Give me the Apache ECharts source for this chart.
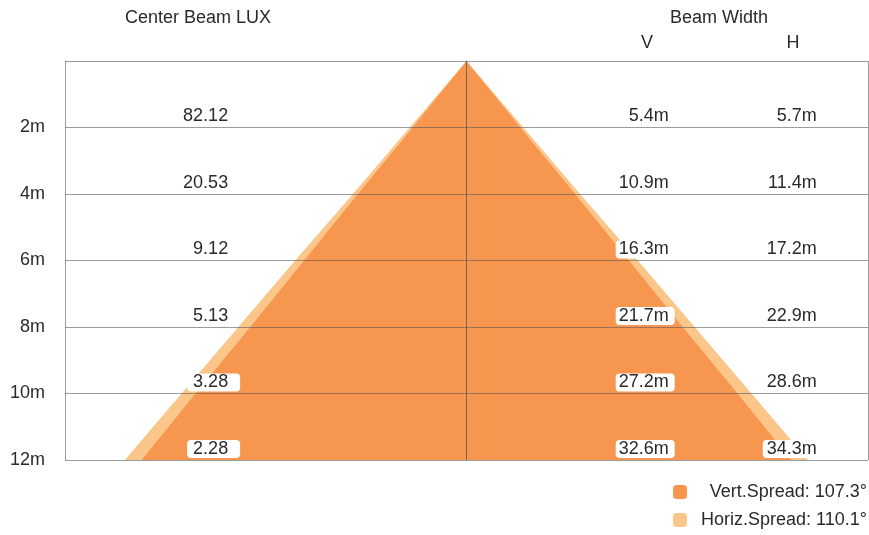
<!DOCTYPE html>
<html>
<head>
<meta charset="utf-8">
<script src="https://cdn.jsdelivr.net/npm/echarts@6/dist/echarts.min.js"></script>
<style>html,body{margin:0;padding:0;background:#fff}#c{width:869px;height:535px}</style>
</head>
<body>
<div id="c"></div>
<script>
// ---- data ----
const distances = [2, 4, 6, 8, 10, 12];
const centerLux = [82.12, 20.53, 9.12, 5.13, 3.28, 2.28];
const vertWidth = [5.4, 10.9, 16.3, 21.7, 27.2, 32.6];
const horizWidth = [5.7, 11.4, 17.2, 22.9, 28.6, 34.3];
const vertSpread = 107.3;
const horizSpread = 110.1;

const vertName = 'Vert.Spread: ' + vertSpread + '°';
const horizName = 'Horiz.Spread: ' + horizSpread + '°';

const FONT = 'Liberation Sans';
const FS = 18;
const TXT = '#2a2a2a';

function conePoints(widths) {
  const pts = [[0, 0]];
  widths.forEach((w, i) => pts.push([w / 2, distances[i]]));
  for (let i = widths.length - 1; i >= 0; i--) pts.push([-widths[i] / 2, distances[i]]);
  return pts;
}

function coneSeries(name, widths, color) {
  return {
    name: name,
    type: 'custom',
    z: 1,
    itemStyle: { color: color },
    data: conePoints(widths),
    renderItem: function (params, api) {
      if (params.dataIndex !== 0) return null;
      const pts = conePoints(widths).map(p => api.coord(p));
      return { type: 'polygon', shape: { points: pts }, style: { fill: color } };
    }
  };
}

function labelSeries(colX, values, suffix, name, pad) {
  return {
    name: name,
    type: 'scatter',
    z: 10,
    symbolSize: 0,
    silent: true,
    itemStyle: { opacity: 1 },
    data: values.map((v, i) => [colX, distances[i], v]),
    label: {
      show: true,
      position: 'left',
      distance: 0,
      offset: [0, -11],
      formatter: p => p.value[2] + suffix,
      fontFamily: FONT,
      fontSize: FS,
      color: TXT,
      backgroundColor: '#fff',
      borderRadius: 4,
      padding: pad
    }
  };
}

const chart = echarts.init(document.getElementById('c'));
chart.setOption({
  animation: false,
  color: ['#F7974F', '#FBC68A'],
  grid: { left: 65, right: 1, top: 61, bottom: 75 },
  xAxis: {
    type: 'value',
    min: -20.15, max: 20.15, interval: 20.15,
    z: 5,
    axisLine: { show: false },
    axisTick: { show: false },
    axisLabel: { show: false },
    splitLine: { show: true, lineStyle: { color: 'rgba(90,90,90,0.6)', width: 1 } }
  },
  yAxis: {
    type: 'value',
    inverse: true,
    min: 0, max: 12, interval: 2,
    z: 5,
    axisLine: { show: true, lineStyle: { color: 'rgba(90,90,90,0.6)', width: 1 } },
    axisTick: { show: false },
    axisLabel: {
      margin: 20,
      fontFamily: FONT, fontSize: FS, color: TXT,
      padding: [0, 0, 8, 0],
      formatter: v => (v === 0 ? '' : v + 'm')
    },
    splitLine: { show: true, lineStyle: { color: 'rgba(90,90,90,0.6)', width: 1 } }
  },
  legend: {
    orient: 'vertical',
    right: 2, top: 483,
    padding: 0,
    icon: 'roundRect',
    itemWidth: 14, itemHeight: 14,
    itemGap: 10,
    data: [vertName, horizName],
    formatter: n => '{t|' + n + '}',
    textStyle: {
      rich: { t: { width: 175, align: 'right', fontFamily: FONT, fontSize: FS, color: TXT } }
    }
  },
  graphic: [
    { type: 'text', x: 198, y: 18, style: { text: 'Center Beam LUX', align: 'center', verticalAlign: 'middle', font: FS + 'px "' + FONT + '"', fill: TXT } },
    { type: 'text', x: 719, y: 18, style: { text: 'Beam Width', align: 'center', verticalAlign: 'middle', font: FS + 'px "' + FONT + '"', fill: TXT } },
    { type: 'text', x: 647, y: 43, style: { text: 'V', align: 'center', verticalAlign: 'middle', font: FS + 'px "' + FONT + '"', fill: TXT } },
    { type: 'text', x: 793, y: 43, style: { text: 'H', align: 'center', verticalAlign: 'middle', font: FS + 'px "' + FONT + '"', fill: TXT } }
  ],
  series: [
    coneSeries(horizName, horizWidth, '#FBC68A'),
    coneSeries(vertName, vertWidth, '#F7974F'),
    labelSeries(-11.36, centerLux, '', 'lux', [1, 12, -1, 6]),
    labelSeries(10.45, vertWidth, 'm', 'vw', [1, 6, -1, 3]),
    labelSeries(17.83, horizWidth, 'm', 'hw', [1, 5, -1, 4])
  ]
});
</script>
</body>
</html>
